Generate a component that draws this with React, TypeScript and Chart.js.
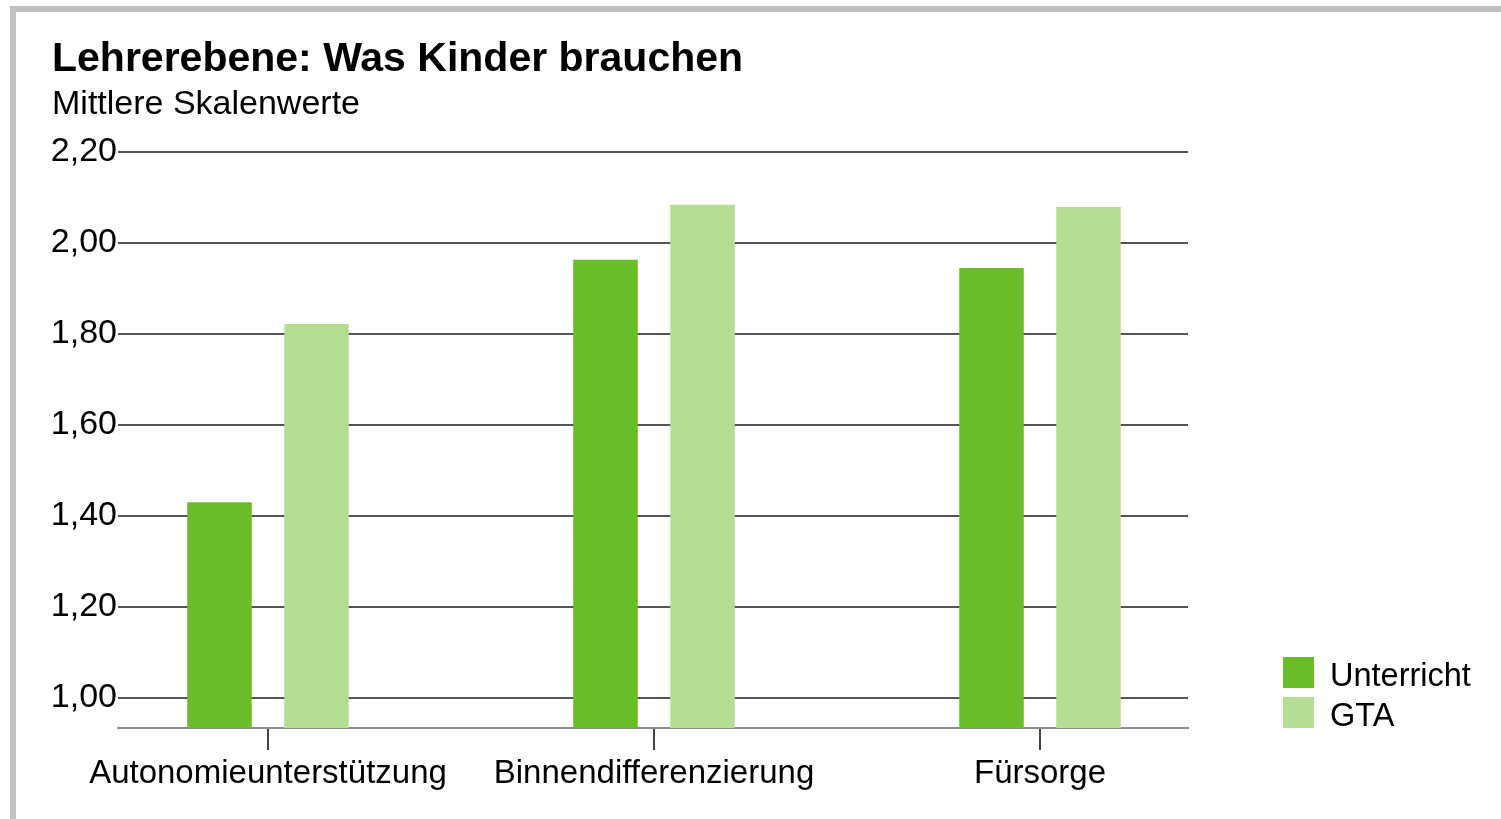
import React, { useEffect, useRef } from 'react';
import { Chart, registerables } from 'chart.js';

Chart.register(...registerables);

const titleText = 'Lehrerebene: Was Kinder brauchen';
const subtitleText = 'Mittlere Skalenwerte';
const categories = ['Autonomieunterstützung', 'Binnendifferenzierung', 'Fürsorge'];
const seriesNames = ['Unterricht', 'GTA'];
const unterrichtValues = [1.43, 1.963, 1.945];
const gtaValues = [1.822, 2.084, 2.079];
const seriesColors = ['rgb(106,188,41)', 'rgb(181,222,148)'];
const yMin = 0.934;
const yMax = 2.2;
const yStep = 0.2;

const FONT = '"Liberation Sans", Arial, Helvetica, sans-serif';

export default function App() {
  const canvasRef = useRef<HTMLCanvasElement | null>(null);

  useEffect(() => {
    if (!canvasRef.current) return;
    const font = { family: FONT, size: 33 };
    const chart = new Chart(canvasRef.current, {
      type: 'bar',
      data: {
        datasets: [
          {
            label: seriesNames[0],
            data: unterrichtValues.map((v, i) => ({ x: i, y: v })),
            backgroundColor: seriesColors[0],
            borderWidth: 0,
            barPercentage: 0.665,
            categoryPercentage: 0.5026,
          },
          {
            label: seriesNames[1],
            data: gtaValues.map((v, i) => ({ x: i, y: v })),
            backgroundColor: seriesColors[1],
            borderWidth: 0,
            barPercentage: 0.665,
            categoryPercentage: 0.5026,
          },
        ],
      },
      options: {
        animation: false,
        responsive: true,
        maintainAspectRatio: false,
        layout: { padding: { top: 152, right: 313, bottom: 0, left: 0 } },
        plugins: {
          legend: { display: false },
          title: { display: false },
          tooltip: { enabled: false },
        },
        scales: {
          x: {
            type: 'linear',
            offset: false,
            min: -0.3886,
            max: 2.3834,
            grid: {
              offset: false,
              drawOnChartArea: false,
              drawTicks: true,
              tickLength: 22,
              color: 'rgb(70,70,70)',
              lineWidth: 2,
            },
            border: { display: true, color: 'rgb(140,140,140)', width: 2 },
            ticks: {
              stepSize: 1,
              includeBounds: false,
              autoSkip: false,
              maxRotation: 0,
              minRotation: 0,
              padding: 4,
              color: '#000',
              font,
              callback: (v: any) => categories[Math.round(Number(v))] ?? '',
            },
            afterFit: (s: any) => {
              s.height = 91;
            },
          },
          y: {
            min: yMin,
            max: yMax,
            grid: { drawTicks: false, color: 'rgb(85,85,85)', lineWidth: 2 },
            border: { display: false },
            ticks: {
              stepSize: yStep,
              includeBounds: false,
              padding: 1,
              color: '#000',
              font: { family: FONT, size: 34 },
              callback: (v: any) => Number(v).toFixed(2).replace('.', ','),
            },
            afterFit: (s: any) => {
              s.width = 118;
            },
          },
        },
      },
    } as any);
    return () => chart.destroy();
  }, []);

  return (
    <div
      style={{
        position: 'fixed',
        left: 0,
        top: 0,
        width: 1501,
        height: 819,
        overflow: 'hidden',
        background: '#fff',
        fontFamily: FONT,
      }}
    >
      <div
        style={{
          position: 'absolute',
          left: 10,
          top: 6,
          width: 2000,
          height: 2000,
          borderTop: '6px solid rgb(192,192,192)',
          borderLeft: '6px solid rgb(192,192,192)',
        }}
      />
      <div style={{ position: 'absolute', left: 0, top: 0, width: 1501, height: 819 }}>
        <canvas ref={canvasRef} />
      </div>
      <div
        style={{
          position: 'absolute',
          left: 52,
          top: 37,
          fontSize: 41,
          lineHeight: '41px',
          fontWeight: 'bold',
          color: '#000',
          whiteSpace: 'nowrap',
        }}
      >
        {titleText}
      </div>
      <div
        style={{
          position: 'absolute',
          left: 52,
          top: 85,
          fontSize: 34,
          lineHeight: '34px',
          color: '#000',
          whiteSpace: 'nowrap',
        }}
      >
        {subtitleText}
      </div>
      {seriesNames.map((name, i) => (
        <div key={name}>
          <div
            style={{
              position: 'absolute',
              left: 1283,
              top: 657 + i * 40,
              width: 31,
              height: 31,
              background: seriesColors[i],
            }}
          />
          <div
            style={{
              position: 'absolute',
              left: 1330,
              top: 659 + i * 40,
              fontSize: 32.5,
              lineHeight: '32px',
              color: '#000',
              whiteSpace: 'nowrap',
            }}
          >
            {name}
          </div>
        </div>
      ))}
    </div>
  );
}
